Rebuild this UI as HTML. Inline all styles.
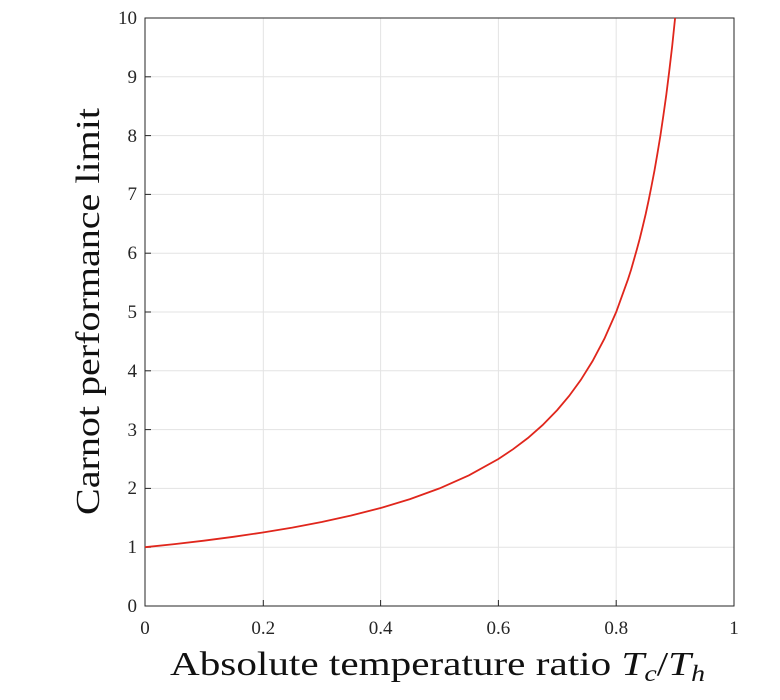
<!DOCTYPE html>
<html><head><style>body{margin:0;background:#fff}svg{display:block}</style></head><body>
<svg width="780" height="700" xmlns="http://www.w3.org/2000/svg" font-family="Liberation Serif, serif">
<rect width="780" height="700" fill="#fff"/>
<g stroke="#e3e3e3" stroke-width="1">
<line x1="263.3" y1="18" x2="263.3" y2="606"/><line x1="380.6" y1="18" x2="380.6" y2="606"/><line x1="498.4" y1="18" x2="498.4" y2="606"/><line x1="616.2" y1="18" x2="616.2" y2="606"/>
<line x1="145" y1="547.2" x2="734" y2="547.2"/><line x1="145" y1="488.4" x2="734" y2="488.4"/><line x1="145" y1="429.6" x2="734" y2="429.6"/><line x1="145" y1="370.8" x2="734" y2="370.8"/><line x1="145" y1="312" x2="734" y2="312"/><line x1="145" y1="253.2" x2="734" y2="253.2"/><line x1="145" y1="194.4" x2="734" y2="194.4"/><line x1="145" y1="135.6" x2="734" y2="135.6"/><line x1="145" y1="76.8" x2="734" y2="76.8"/>
</g>
<rect x="145" y="18" width="589" height="588" fill="none" stroke="#262626" stroke-width="1"/>
<g stroke="#262626" stroke-width="1">
<line x1="263.3" y1="606" x2="263.3" y2="600"/><line x1="380.6" y1="606" x2="380.6" y2="600"/><line x1="498.4" y1="606" x2="498.4" y2="600"/><line x1="616.2" y1="606" x2="616.2" y2="600"/>
<line x1="145" y1="547.2" x2="151" y2="547.2"/><line x1="145" y1="488.4" x2="151" y2="488.4"/><line x1="145" y1="429.6" x2="151" y2="429.6"/><line x1="145" y1="370.8" x2="151" y2="370.8"/><line x1="145" y1="312" x2="151" y2="312"/><line x1="145" y1="253.2" x2="151" y2="253.2"/><line x1="145" y1="194.4" x2="151" y2="194.4"/><line x1="145" y1="135.6" x2="151" y2="135.6"/><line x1="145" y1="76.8" x2="151" y2="76.8"/>
</g>
<polyline fill="none" stroke="#e0261c" stroke-width="1.8" points="145,547.2 174.5,544.1 203.9,540.7 233.4,536.8 262.8,532.5 292.3,527.6 321.7,522 351.2,515.5 380.6,508 410,499.1 439.5,488.4 469,475.3 498.4,459 513.1,449.2 527.9,438 542.6,425.1 557.3,410 569.1,396 580.9,379.8 592.6,361 604.4,338.7 616.2,312 628,279.3 631,270 636.8,249.6 639.8,238.5 642.7,226.6 645.7,214 648.6,200.5 651.5,186 654.5,170.4 657.4,153.7 660.4,135.6 663.3,116 666.3,94.7 669.2,71.5 672.2,46 675.1,18"/>
<g font-size="19" fill="#262626" text-anchor="middle">
<text x="145" y="634">0</text><text x="263.3" y="634">0.2</text><text x="380.6" y="634">0.4</text><text x="498.4" y="634">0.6</text><text x="616.2" y="634">0.8</text><text x="734" y="634">1</text>
</g>
<g font-size="19" fill="#262626" text-anchor="end">
<text x="137" y="612">0</text><text x="137" y="553">1</text><text x="137" y="494">2</text><text x="137" y="436">3</text><text x="137" y="377">4</text><text x="137" y="318">5</text><text x="137" y="259">6</text><text x="137" y="200">7</text><text x="137" y="142">8</text><text x="137" y="83">9</text><text x="137" y="24">10</text>
</g>
<text x="170" y="675" font-size="34" fill="#111" textLength="535" lengthAdjust="spacingAndGlyphs">Absolute temperature ratio <tspan font-style="italic">T</tspan><tspan font-style="italic" font-size="23" dy="6">c</tspan><tspan dy="-6">/</tspan><tspan font-style="italic">T</tspan><tspan font-style="italic" font-size="23" dy="6">h</tspan></text>
<text transform="translate(99,515) rotate(-90)" font-size="34" fill="#111" textLength="407" lengthAdjust="spacingAndGlyphs">Carnot performance limit</text>
</svg>
</body></html>
